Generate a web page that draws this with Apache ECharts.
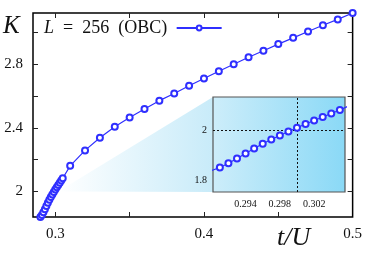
<!DOCTYPE html>
<html>
<head>
<meta charset="utf-8">
<script src="https://cdn.jsdelivr.net/npm/echarts@6/dist/echarts.min.js"></script>
<style>html,body{margin:0;padding:0;background:#fff}#c{width:365px;height:256px}</style>
</head>
<body>
<div id="c"></div>
<script>
// Data: t/U and K for L = 256 (OBC)
const tValues = [0.290,0.291,0.292,0.293,0.294,0.295,0.296,0.297,0.298,0.299,0.300,0.301,0.302,0.303,0.304,0.305,
  0.31,0.32,0.33,0.34,0.35,0.36,0.37,0.38,0.39,0.40,0.41,0.42,0.43,0.44,0.45,0.46,0.47,0.48,0.49,0.50];
const kValues = [1.840,1.853,1.870,1.889,1.909,1.929,1.948,1.965,1.981,1.997,2.012,2.027,2.041,2.055,2.069,2.083,
  2.161,2.258,2.337,2.406,2.464,2.518,2.570,2.615,2.663,2.709,2.755,2.798,2.842,2.883,2.925,2.964,3.004,3.043,3.080,3.120];
const seriesName = 'L = 256 (OBC)';
// Tick labels
const mainXLabels = [0.3, 0.4, 0.5];
const mainXTicks = [0.3, 0.35, 0.4, 0.45];
const mainYLabels = [2, 2.4, 2.8];
const mainYTicks = [2, 2.2, 2.4, 2.6, 2.8, 3.0];
const insetXLabels = [0.294, 0.298, 0.302];
const insetXTicks = [0.292, 0.294, 0.296, 0.298, 0.300, 0.302, 0.304];
const insetYLabels = [1.8, 2];
const insetYTicks = [1.8, 1.9, 2.0, 2.1];
const criticalT = 0.299;
const criticalK = 2.0;
const wedgeTip = [0.302, 2.0];

const mainX = [0.285, 0.5], mainY = [1.84, 3.12];
const insetX = [0.2902, 0.3056], insetY = [1.755, 2.135];

const pts = tValues.map((t, i) => [t, kValues[i]]);
const serif = '"Liberation Serif", "DejaVu Serif", serif';
const blue = '#2f2fff';

const chart = echarts.init(document.getElementById('c'), null, {renderer: 'canvas'});

function xAx(grid, range, labels, ticks, show, len, fs, margin) {
  return {type: 'value', gridIndex: grid, min: range[0], max: range[1], position: show ? 'bottom' : 'top',
    splitLine: {show: false}, axisLine: {show: false},
    axisTick: {show: true, inside: true, length: len, customValues: ticks, lineStyle: {color: '#222', width: 1}},
    axisLabel: {show: show, customValues: labels, margin: margin, fontFamily: serif, fontSize: fs, color: '#111',
      formatter: v => String(+v.toFixed(4))}};
}
function yAx(grid, range, labels, ticks, show, len, fs, margin) {
  return {type: 'value', gridIndex: grid, min: range[0], max: range[1], position: show ? 'left' : 'right',
    splitLine: {show: false}, axisLine: {show: false},
    axisTick: {show: true, inside: true, length: len, customValues: ticks, lineStyle: {color: '#222', width: 1}},
    axisLabel: {show: show, customValues: labels, margin: margin, fontFamily: serif, fontSize: fs, color: '#111',
      formatter: v => String(+v.toFixed(4))}};
}

const labelTexts = [
  {type: 'text', left: 3, top: 14, style: {text: 'K', font: 'italic 25px ' + serif, fill: '#111'}},
  {type: 'text', left: 277, top: 225, style: {text: 't/U', font: 'italic 26px ' + serif, fill: '#111'}}
];

const option = {
  animation: false,
  backgroundColor: '#fff',
  grid: [
    {left: 33, right: 10, top: 13, bottom: 39, show: true, borderColor: '#000', borderWidth: 1.5, backgroundColor: 'transparent', z: 0},
    {left: 213, right: 20, top: 97, bottom: 64, show: true, borderColor: '#555', borderWidth: 1.2, z: 1,
      backgroundColor: new echarts.graphic.LinearGradient(0, 0, 1, 0, [{offset: 0, color: '#cdedfa'}, {offset: 1, color: '#8ad9f6'}])}
  ],
  xAxis: [
    xAx(0, mainX, mainXLabels, mainXTicks, true, 5, 15, 10),
    xAx(0, mainX, mainXLabels, mainXTicks, false, 5, 15, 10),
    xAx(1, insetX, insetXLabels, insetXTicks, true, 3, 10, 7),
    xAx(1, insetX, insetXLabels, insetXTicks, false, 3, 10, 7)
  ],
  yAxis: [
    yAx(0, mainY, mainYLabels, mainYTicks, true, 5, 15, 10),
    yAx(0, mainY, mainYLabels, mainYTicks, false, 5, 15, 10),
    yAx(1, insetY, insetYLabels, insetYTicks, true, 3, 10, 6),
    yAx(1, insetY, insetYLabels, insetYTicks, false, 3, 10, 6)
  ],
  legend: {
    data: [seriesName], left: 44, top: 19, align: 'right', itemWidth: 45, itemHeight: 6, itemGap: 0, padding: 0,
    textStyle: {fontFamily: serif, fontSize: 18, color: '#111', rich: {
      i: {fontFamily: serif, fontSize: 18, fontStyle: 'italic', color: '#111'},
      r: {fontFamily: serif, fontSize: 18, color: '#111'}
    }},
    formatter: () => '{i|L}{r|  =  256  (OBC) }'
  },
  series: [
    {name: seriesName, type: 'line', xAxisIndex: 0, yAxisIndex: 0, data: pts, z: 5,
      symbol: 'emptyCircle', symbolSize: 6, lineStyle: {color: blue, width: 1.2},
      itemStyle: {color: blue, borderColor: blue, borderWidth: 1}},
    {name: 'inset', type: 'line', xAxisIndex: 2, yAxisIndex: 2, data: pts, z: 5, clip: true,
      symbol: 'emptyCircle', symbolSize: 6, lineStyle: {color: blue, width: 1.2},
      itemStyle: {color: blue, borderColor: blue, borderWidth: 1},
      markLine: {silent: true, symbol: 'none', label: {show: false},
        lineStyle: {color: '#111', type: [2, 2], width: 1},
        data: [{xAxis: criticalT}, {yAxis: criticalK}]}}
  ],
  graphic: labelTexts
};
chart.setOption(option);

// Wedge connecting the zoomed region to the inset
const tip = chart.convertToPixel({xAxisIndex: 0, yAxisIndex: 0}, wedgeTip);
const tl = chart.convertToPixel({xAxisIndex: 2, yAxisIndex: 2}, [insetX[0], insetY[1]]);
const bl = chart.convertToPixel({xAxisIndex: 2, yAxisIndex: 2}, [insetX[0], insetY[0]]);
chart.setOption({graphic: labelTexts.concat([
  {type: 'polygon', z: -1, shape: {points: [tip, tl, [bl[0], tip[1]], bl]},
    style: {fill: new echarts.graphic.LinearGradient(0, 0, 1, 0, [{offset: 0, color: 'rgba(255,255,255,1)'}, {offset: 1, color: '#c8ebf9'}])}}
])});
</script>
</body>
</html>
